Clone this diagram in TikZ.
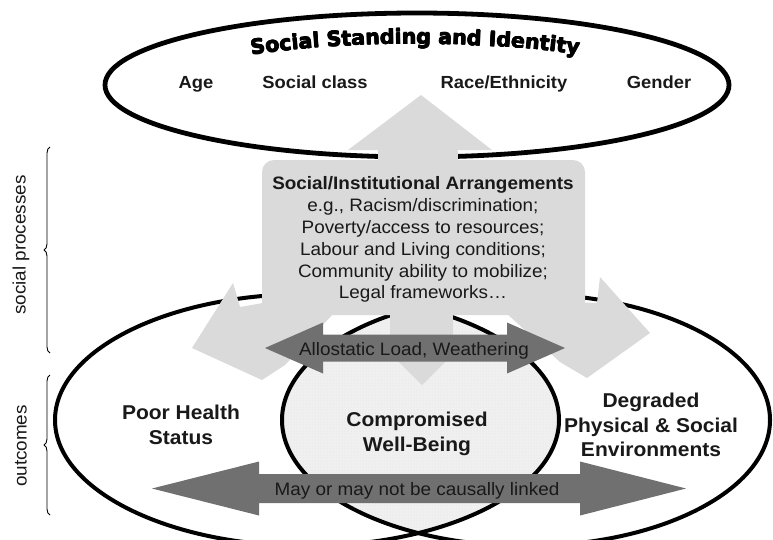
\documentclass[tikz,border=0pt]{standalone}
\usepackage{fontspec}
\setmainfont{Liberation Sans}[FakeStretch=1.05]
\newfontfamily\titlefont{DejaVu Sans}
\usetikzlibrary{decorations.text,decorations.pathreplacing,patterns}
\definecolor{lightg}{RGB}{218,218,218}
\definecolor{darkg}{RGB}{112,112,112}
\definecolor{lensg}{RGB}{240,240,240}
\definecolor{txt}{RGB}{25,25,25}
\tikzset{
  boxtxt/.style={font=\fontsize{18}{20}\selectfont, anchor=base, inner sep=0, text=txt},
  boxhead/.style={boxtxt, font=\bfseries\fontsize{18}{20}\selectfont},
  toplbl/.style={font=\bfseries\fontsize{17.5}{20}\selectfont, anchor=base, inner sep=0, text=txt},
  outlbl/.style={font=\bfseries\fontsize{20}{22}\selectfont, anchor=base, inner sep=0, text=txt},
  arrtxt/.style={font=\fontsize{18}{20}\selectfont, anchor=base, inner sep=0, text=txt},
  sidetxt/.style={font=\fontsize{18}{20}\selectfont, rotate=90, inner sep=0, text=txt},
  ring/.style={draw=black, line width=4pt},
  bracestyle/.style={draw=black, line width=0.9pt, decorate, decoration={brace, amplitude=6pt}},
  titlepath/.style={decorate, decoration={text along path, text align=center,
    text={|\titlefont\bfseries\fontsize{20.5}{22}\selectfont|Social Standing and Identity}}},
}
\begin{document}
\begin{tikzpicture}[x=1pt,y=-1pt,line join=round]
\useasboundingbox (0,0) rectangle (773,539);
\clip (0,0) rectangle (773,539);
% lens (intersection of the two outcome ellipses)
\begin{scope}
  \clip (307,420) ellipse [x radius=252, y radius=126];
  \fill[lensg] (526,420) ellipse [x radius=244, y radius=126];
  \fill[pattern=dots, pattern color=black!12] (526,420) ellipse [x radius=244, y radius=126];
\end{scope}
% ellipses
\draw[ring, line width=4.8pt] (417,85) ellipse [x radius=312, y radius=72];
\draw[ring] (307,420) ellipse [x radius=252, y radius=126];
\draw[ring] (526,420) ellipse [x radius=244, y radius=126];
% light grey multi-arrow
\fill[lightg, rounded corners=12] (262,160) rectangle (585,315);
\fill[lightg] (378,146) rectangle (458,166);
\fill[lightg] (348,150) -- (492,150) -- (421,95) -- cycle;
\fill[lightg] (390,300) rectangle (453,345);
\fill[lightg] (377,340) -- (467,340) -- (422,385) -- cycle;
\fill[lightg] (280,300) -- (240,307) -- (233,283) -- (192,348) -- (262,380) -- (285,365) -- (335,312) -- cycle;
\fill[lightg] (570,302) -- (597,303) -- (600,277) -- (650,333) -- (587,378) -- (560,362) -- (505,312) -- cycle;
% dark double arrows
\fill[darkg] (265,348) -- (323,322.5) -- (323,334.5) -- (507,334.5) -- (507,322.5) -- (565,348)
  -- (507,373.5) -- (507,361.5) -- (323,361.5) -- (323,373.5) -- cycle;
\fill[darkg] (152,488.5) -- (259,461.5) -- (259,474) -- (580,474) -- (580,461.5) -- (686,488.5)
  -- (580,515.5) -- (580,503) -- (259,503) -- (259,515.5) -- cycle;
% title along arc (overprinted to imitate a black-weight face)
\foreach \dx/\dy in {-0.45/0, 0.45/0, 0/-0.35, 0/0.35, 0/0} {
  \path[titlepath, shift={(\dx,\dy)}]
    (223,59.3) arc[start angle=232, end angle=308, x radius=312, y radius=72];
}
% top labels
\node[toplbl] (age) at (196,88) {Age};
\node[toplbl] (class) at (315,88) {Social class};
\node[toplbl] (race) at (504,88) {Race/Ethnicity};
\node[toplbl] (gender) at (659,88) {Gender};
% box text
\node[boxhead] (sia) at (423,189) {Social/Institutional Arrangements};
\node[boxtxt] (l1) at (423,211.5) {e.g., Racism/discrimination;};
\node[boxtxt] (l2) at (423,233) {Poverty/access to resources;};
\node[boxtxt] (l3) at (423,255) {Labour and Living conditions;};
\node[boxtxt] (l4) at (423,277) {Community ability to mobilize;};
\node[boxtxt] (l5) at (423,298.5) {Legal frameworks\ldots};
% arrow texts
\node[arrtxt] (allo) at (414,355) {Allostatic Load, Weathering};
\node[arrtxt] (may) at (417,495) {May or may not be causally linked};
% outcome labels
\node[outlbl] (ph1) at (181,419) {Poor Health};
\node[outlbl] (ph2) at (181,444) {Status};
\node[outlbl] (cw1) at (417,426) {Compromised};
\node[outlbl] (cw2) at (417,451) {Well-Being};
\node[outlbl] (dg1) at (651,407) {Degraded};
\node[outlbl] (dg2) at (651,432) {Physical \& Social};
\node[outlbl] (dg3) at (651,456) {Environments};
% side labels and braces
\node[sidetxt] (sp) at (21,245) {social processes};
\node[sidetxt] (oc) at (21,446) {outcomes};
\coordinate (b1t) at (50,147);
\coordinate (b1b) at (50,353);
\coordinate (b2t) at (50,375);
\coordinate (b2b) at (50,515);
\draw[bracestyle] (b1b) -- (b1t);
\draw[bracestyle] (b2b) -- (b2t);
\end{tikzpicture}
\end{document}
